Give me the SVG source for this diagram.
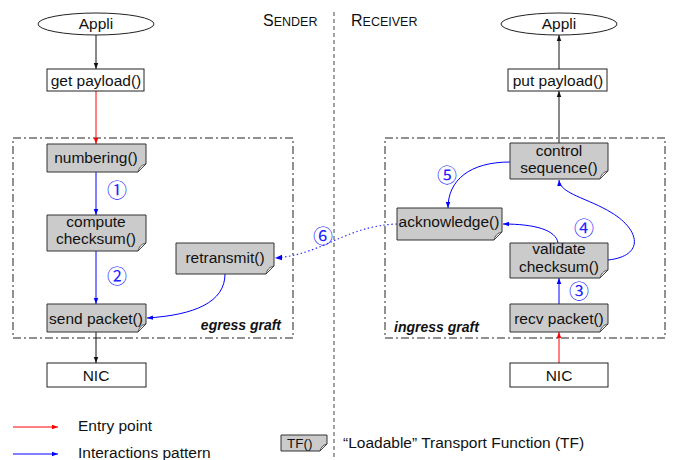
<svg xmlns="http://www.w3.org/2000/svg" width="678" height="460" viewBox="0 0 678 460">
<defs>
<style>
text{font-family:"Liberation Sans",Arial,sans-serif;font-size:15.5px;fill:#111}
.c{text-anchor:middle}
.tf{fill:#cbcbcb;stroke:#333;stroke-width:1}
.curl{fill:#eee;stroke:#333;stroke-width:0.8}
.box{fill:#fff;stroke:#222;stroke-width:1}
.graft{fill:none;stroke:#222;stroke-width:1;stroke-dasharray:8 3 2 3}
.blk{fill:none;stroke:#111;stroke-width:1}
.red{fill:none;stroke:#f00;stroke-width:1}
.blu{fill:none;stroke:#00f;stroke-width:1}
.dot{fill:none;stroke:#33f;stroke-width:1.2;stroke-dasharray:1.5 2.5}
.num{font-family:"Noto Sans CJK JP","DejaVu Sans",sans-serif;font-size:20px;fill:#22f}
.gl{font-weight:bold;font-style:italic;font-size:14px}
.sc1{font-size:16px}
.sc2{font-size:12.5px}
</style>
<marker id="ak" viewBox="0 0 8 8" refX="8" refY="4" markerWidth="6" markerHeight="6" orient="auto"><path d="M0,1 L8,4 L0,7 Z" fill="#111"/></marker>
<marker id="ar" viewBox="0 0 8 8" refX="8" refY="4" markerWidth="6" markerHeight="6" orient="auto"><path d="M0,1 L8,4 L0,7 Z" fill="#f00"/></marker>
<marker id="ab" viewBox="0 0 8 8" refX="8" refY="4" markerWidth="6" markerHeight="6" orient="auto"><path d="M0,1 L8,4 L0,7 Z" fill="#00f"/></marker>
</defs>
<rect width="678" height="460" fill="#fff"/>

<!-- divider and headings -->
<line x1="334" y1="12" x2="334" y2="460" stroke="#444" stroke-width="1" stroke-dasharray="4 3"/>
<text x="263" y="26"><tspan class="sc1">S</tspan><tspan class="sc2">ENDER</tspan></text>
<text x="351" y="26"><tspan class="sc1">R</tspan><tspan class="sc2">ECEIVER</tspan></text>

<!-- graft boxes -->
<rect class="graft" x="13" y="138" width="280" height="200"/>
<text class="gl" x="281" y="330" text-anchor="end">egress graft</text>
<rect class="graft" x="385" y="138" width="280" height="200"/>
<text class="gl" x="394" y="332">ingress graft</text>

<!-- connectors -->
<g id="connectors">
<line class="blk" x1="96" y1="35" x2="96" y2="69" marker-end="url(#ak)"/>
<line class="red" x1="96" y1="91" x2="96" y2="144" marker-end="url(#ar)"/>
<line class="blu" x1="96" y1="172" x2="96" y2="215" marker-end="url(#ab)"/>
<line class="blu" x1="96" y1="251" x2="96" y2="304" marker-end="url(#ab)"/>
<path class="blu" d="M225,274 C225,302 195,315 147,318" marker-end="url(#ab)"/>
<line class="blk" x1="96" y1="332" x2="96" y2="363" marker-end="url(#ak)"/>
<line class="red" x1="559" y1="363" x2="559" y2="332" marker-end="url(#ar)"/>
<line class="blu" x1="559" y1="304" x2="559" y2="278" marker-end="url(#ab)"/>
<path class="blu" d="M558,243 C556,230 535,224 503,224" marker-end="url(#ab)"/>
<path class="blu" d="M608,260 C645,256 640,230 612,213 C588,198 560,194 559,180" marker-end="url(#ab)"/>
<path class="blu" d="M510,162 C470,162 448,180 448,208" marker-end="url(#ab)"/>
<line class="blk" x1="559" y1="143" x2="559" y2="91" marker-end="url(#ak)"/>
<line class="blk" x1="559" y1="69" x2="559" y2="35" marker-end="url(#ak)"/>
<path class="dot" d="M397,224 C345,226 322,255 275,258" marker-end="url(#ab)"/>
</g>

<!-- circled numbers -->
<text class="num c" x="117" y="198">①</text>
<text class="num c" x="117" y="284">②</text>
<text class="num c" x="579" y="299">③</text>
<text class="num c" x="584" y="236">④</text>
<text class="num c" x="447" y="183">⑤</text>
<text class="num c" x="323" y="244">⑥</text>

<!-- sender nodes -->
<g id="appli-s"><ellipse class="box" cx="96" cy="24" rx="58" ry="11"/><text class="c" x="96" y="29">Appli</text></g>
<g id="getpayload"><rect class="box" x="47" y="69" width="97" height="22"/><text class="c" x="96" y="86">get payload()</text></g>
<g id="numbering"><path class="tf" d="M47,144 H146 V164 L138,172 H47 Z"/><path class="curl" d="M138,172 C139,168 141,165 146,164 C143,167 141,169 138,172 Z"/><text class="c" x="96" y="163">numbering()</text></g>
<g id="compute"><path class="tf" d="M47,215 H146 V243 L138,251 H47 Z"/><path class="curl" d="M138,251 C139,247 141,244 146,243 C143,246 141,248 138,251 Z"/><text class="c" x="96" y="227">compute</text><text class="c" x="96" y="244">checksum()</text></g>
<g id="sendpacket"><path class="tf" d="M47,304 H146 V324 L138,332 H47 Z"/><path class="curl" d="M138,332 C139,328 141,325 146,324 C143,327 141,329 138,332 Z"/><text class="c" x="96" y="324">send packet()</text></g>
<g id="retransmit"><path class="tf" d="M176,243 H274 V266 L266,274 H176 Z"/><path class="curl" d="M266,274 C267,270 269,267 274,266 C271,269 269,271 266,274 Z"/><text class="c" x="225" y="263">retransmit()</text></g>
<g id="nic-s"><rect class="box" x="47" y="363" width="99" height="24"/><text class="c" x="96" y="381">NIC</text></g>

<!-- receiver nodes -->
<g id="appli-r"><ellipse class="box" cx="559" cy="24" rx="58" ry="11"/><text class="c" x="559" y="29">Appli</text></g>
<g id="putpayload"><rect class="box" x="508" y="69" width="99" height="22"/><text class="c" x="558" y="86">put payload()</text></g>
<g id="control"><path class="tf" d="M510,143 H608 V171 L600,179 H510 Z"/><path class="curl" d="M600,179 C601,175 603,172 608,171 C605,174 603,176 600,179 Z"/><text class="c" x="559" y="156">control</text><text class="c" x="559" y="173">sequence()</text></g>
<g id="acknowledge"><path class="tf" d="M397,208 H502 V232 L494,240 H397 Z"/><path class="curl" d="M494,240 C495,236 497,233 502,232 C499,235 497,237 494,240 Z"/><text class="c" x="449" y="227">acknowledge()</text></g>
<g id="validate"><path class="tf" d="M510,243 H608 V270 L600,278 H510 Z"/><path class="curl" d="M600,278 C601,274 603,271 608,270 C605,273 603,275 600,278 Z"/><text class="c" x="559" y="254">validate</text><text class="c" x="559" y="272">checksum()</text></g>
<g id="recvpacket"><path class="tf" d="M510,304 H608 V324 L600,332 H510 Z"/><path class="curl" d="M600,332 C601,328 603,325 608,324 C605,327 603,329 600,332 Z"/><text class="c" x="559" y="324">recv packet()</text></g>
<g id="nic-r"><rect class="box" x="510" y="363" width="98" height="24"/><text class="c" x="559" y="381">NIC</text></g>

<!-- legend -->
<g id="legend">
<line class="red" x1="13" y1="427" x2="58" y2="427" marker-end="url(#ar)"/>
<text x="78" y="431">Entry point</text>
<line class="blu" x1="13" y1="454" x2="58" y2="454" marker-end="url(#ab)"/>
<text x="78" y="458">Interactions pattern</text>
<path class="tf" d="M281,435 H327 V444 L320,451 H281 Z"/>
<path class="curl" d="M320,451 C321,447 323,445 327,444 C324,447 322,449 320,451 Z"/>
<text x="287" y="448" style="font-size:13.5px">TF()</text>
<text x="343" y="448">“Loadable” Transport Function (TF)</text>
</g>
</svg>
